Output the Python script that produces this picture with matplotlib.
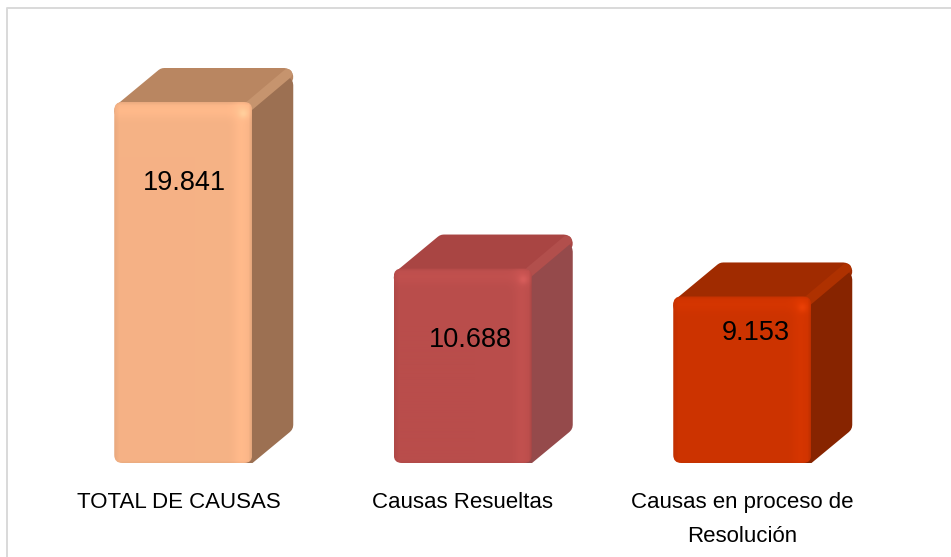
import numpy as np
import matplotlib
matplotlib.use("Agg")
import matplotlib.pyplot as plt
from matplotlib.lines import Line2D
from matplotlib.patches import FancyBboxPatch, Polygon
from matplotlib.colors import to_rgb
from matplotlib.transforms import Affine2D, ScaledTranslation

# ---- data ----
categories = ["TOTAL DE CAUSAS", "Causas Resueltas", "Causas en proceso de\nResolución"]
values = [19841, 10688, 9153]
value_labels = ["19.841", "10.688", "9.153"]

# ---- styling ----
front_colors = ["#F5B285", "#B94D4B", "#CC3300"]
top_colors = ["#B98661", "#A94543", "#A02B00"]
ridge_colors = ["#C6946E", "#B24F4C", "#AE3100"]
side_colors = ["#9C7052", "#954A4B", "#872400"]
label_drop_px = [81, 71, 37]
label_shift_px = [1, 8, 14]

W, H = 951, 557
plt.rcParams["font.family"] = ["Liberation Sans"]
fig = plt.figure(figsize=(W / 100, H / 100), dpi=100, facecolor="white")

# frame: only the top and left edges are visible in the picture
fig.add_artist(Line2D([7 / W, 7 / W, 1], [0, 1 - 8 / H, 1 - 8 / H], transform=fig.transFigure,
                      color="#D9D9D9", lw=1.4))

SLOT = 279.5
AX_L, AX_B, AX_T = 43.5, 463, 30
ax = fig.add_axes([AX_L / W, 1 - AX_B / H, 3 * SLOT / W, (AX_B - AX_T) / H])
PX_PER_UNIT = 361 / values[0]
ymax = (AX_B - AX_T) / PX_PER_UNIT
xu, yu = 1 / SLOT, 1 / PX_PER_UNIT      # data units per pixel
BW, DX, DY = 138 * xu, 41 * xu, 34 * yu


def shade_image(base, w, h):
    """RGB bevel shading for a bar's front face."""
    xs = np.arange(w)[None, :].repeat(h, 0)
    ys = np.arange(h)[:, None].repeat(w, 1)
    f = np.ones((h, w))
    f *= 1 - 0.05 * np.clip(1 - xs / 5, 0, 1)                # left edge
    f *= 1 + 0.045 * np.exp(-((xs - (w - 11)) / 8.0) ** 2)   # right highlight
    f *= 1 - 0.10 * np.clip((xs - (w - 4)) / 4, 0, 1)        # right edge
    f *= 1 + 0.04 * np.exp(-((ys - 8) / 8.0) ** 2)           # top highlight
    f *= 1 - 0.05 * np.clip(1 - ys / 3, 0, 1)
    f *= 1 - 0.05 * np.clip((ys - (h - 3)) / 3, 0, 1)
    img = np.clip(np.array(base)[None, None, :] * f[:, :, None], 0, 1)
    spot = np.exp(-(((xs - (w - 9)) / 4.5) ** 2 + ((ys - 11) / 4.5) ** 2))[:, :, None] * 0.4
    return img * (1 - spot) + spot * np.clip(np.array(base) * 1.2 + 0.06, 0, 1)


for i, v in enumerate(values):
    x0, x1 = i - BW / 2, i + BW / 2
    r = 9
    rx, ry = r * xu, r * yu
    lw = r * 2 * 0.72
    # top face
    ax.add_patch(Polygon([(x0 + rx, v - ry), (x0 + DX + rx, v + DY - ry), (x1 + DX - rx, v + DY - ry), (x1, v - ry)],
                         closed=True, fc=top_colors[i], ec=top_colors[i], lw=lw, joinstyle="round", zorder=2))
    # side face (its upper end stays under the ridge band)
    drop = 8 * yu
    ax.add_patch(Polygon([(x1 - rx, v - ry - drop), (x1 + DX - rx, v + DY - ry - drop),
                          (x1 + DX - rx, DY + 4 * yu), (x1 - rx, 4 * yu)],
                         closed=True, fc=side_colors[i], ec=side_colors[i], lw=lw, joinstyle="round", zorder=3))
    # ridge between top and side
    ax.plot([x1 - rx, x1 + DX - 0.65 * rx], [v - ry, v + DY - 0.65 * ry], color=ridge_colors[i], lw=7,
            solid_capstyle="round", zorder=4)
    # front face
    w, h = 138, int(round(v * PX_PER_UNIT))
    im = ax.imshow(shade_image(to_rgb(front_colors[i]), w, h), extent=(x0, x1, 0, v), origin="upper",
                   aspect="auto", zorder=5, interpolation="bilinear")
    # rounded clip expressed in pixel units
    clip = FancyBboxPatch((x0 / xu, 0), BW / xu, v / yu, boxstyle="round,pad=0,rounding_size=8",
                          transform=Affine2D().scale(xu, yu) + ax.transData, fc="none", ec="none")
    ax.add_patch(clip)
    im.set_clip_path(clip)
    # value label
    ax.annotate(value_labels[i], (i, v), xytext=(label_shift_px[i] * 0.72, -label_drop_px[i] * 0.72),
                textcoords="offset points", ha="center", va="center", fontsize=19.5, color="black", zorder=6)

ax.set_xlim(-0.5, 2.5)
ax.set_ylim(0, ymax)
ax.set_xticks(range(3), categories)
ax.set_yticks([])
ax.tick_params(axis="x", length=0, pad=21, labelsize=16, colors="black")
labels = ax.get_xticklabels()
labels[0].set_transform(labels[0].get_transform() + ScaledTranslation(-4 / 100, 0, fig.dpi_scale_trans))
labels[2].set_linespacing(1.8)
for s in ax.spines.values():
    s.set_visible(False)
ax.patch.set_alpha(0)

fig.savefig("out.png", dpi=100)
